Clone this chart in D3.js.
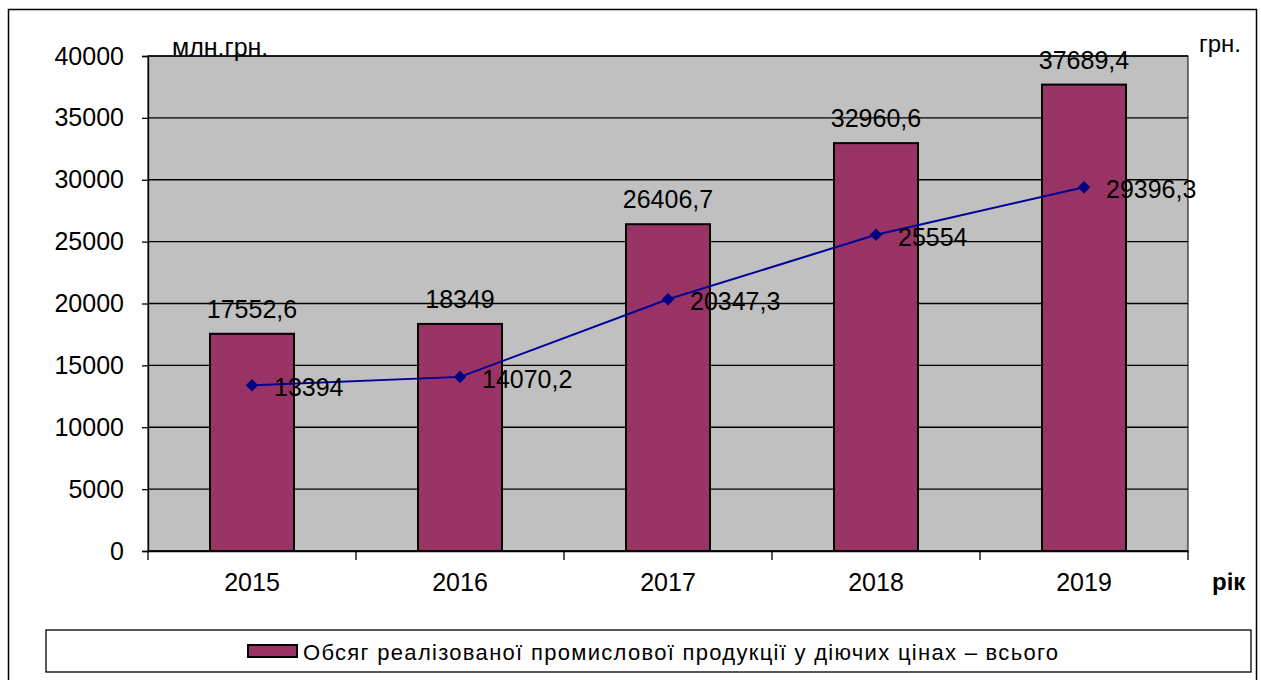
<!DOCTYPE html>
<html>
<head>
<meta charset="utf-8">
<script src="https://cdn.jsdelivr.net/npm/d3@7"></script>
<style>
  body { margin: 0; background: #fff; }
  text { font-family: "Liberation Sans", Arial, sans-serif; }
</style>
</head>
<body>
<svg id="chart" width="1261" height="680"></svg>
<script>
// data
var years = ["2015", "2016", "2017", "2018", "2019"]
var salesVolume = [17552.6, 18349, 26406.7, 32960.6, 37689.4]
var perCapita = [13394, 14070.2, 20347.3, 25554, 29396.3]
var yTicks = [0, 5000, 10000, 15000, 20000, 25000, 30000, 35000, 40000]
var legendLabel = "Обсяг реалізованої промислової продукції у діючих цінах – всього"

var fmt = function(v) { return String(v).replace(".", ","); }

var svg = d3.select("#chart")

// outer frame
svg.append("rect").attr("x", 8.5).attr("y", 9.5).attr("width", 1248).attr("height", 690)
  .attr("fill", "#fff").attr("stroke", "#000").attr("stroke-width", 1.5)

var plotL = 148, plotR = 1188, plotT = 56, plotB = 551
var fs = 25

var x = d3.scaleBand().domain(years).range([plotL, plotR]).paddingInner(0).paddingOuter(0)
var y = d3.scaleLinear().domain([0, 40000]).range([plotB, plotT])
var barW = 84

// plot area
svg.append("rect").attr("x", plotL).attr("y", plotT).attr("width", plotR - plotL).attr("height", plotB - plotT)
  .attr("fill", "#C0C0C0").attr("stroke", "#000").attr("stroke-width", 1)

// gridlines
svg.selectAll(".grid").data(yTicks).enter().append("line")
  .attr("x1", plotL).attr("x2", plotR)
  .attr("y1", function(d) { return y(d); }).attr("y2", function(d) { return y(d); })
  .attr("stroke", "#000").attr("stroke-width", 1.3)

// y axis
var yAxis = svg.append("g").attr("transform", "translate(" + plotL + ",0)")
  .call(d3.axisLeft(y).tickValues(yTicks).tickSize(6).tickPadding(18).tickFormat(d3.format("d")))
yAxis.select(".domain").attr("stroke", "#000").attr("stroke-width", 1.3)
yAxis.selectAll(".tick line").attr("stroke", "#000").attr("stroke-width", 1.3)
yAxis.selectAll(".tick text").attr("font-size", fs).attr("fill", "#000")
  .attr("font-family", "Liberation Sans, Arial, sans-serif")

// x axis
var xAxis = svg.append("g").attr("transform", "translate(0," + plotB + ")")
  .call(d3.axisBottom(x).tickSize(0).tickPadding(22))
xAxis.select(".domain").attr("stroke", "#000").attr("stroke-width", 1.3)
xAxis.selectAll(".tick text").attr("font-size", fs).attr("fill", "#000")
  .attr("font-family", "Liberation Sans, Arial, sans-serif")
// category separator ticks
var seps = years.map(function(d) { return x(d); }).concat([plotR])
svg.selectAll(".sep").data(seps).enter().append("line")
  .attr("x1", function(d) { return d; }).attr("x2", function(d) { return d; })
  .attr("y1", plotB).attr("y2", plotB + 9)
  .attr("stroke", "#000").attr("stroke-width", 1.3)

// bars
svg.selectAll(".bar").data(salesVolume).enter().append("rect")
  .attr("x", function(d, i) { return x(years[i]) + x.bandwidth() / 2 - barW / 2; })
  .attr("y", function(d) { return y(d); })
  .attr("width", barW)
  .attr("height", function(d) { return plotB - y(d); })
  .attr("fill", "#993366").attr("stroke", "#000").attr("stroke-width", 2)

// bar labels
svg.selectAll(".barlabel").data(salesVolume).enter().append("text")
  .attr("x", function(d, i) { return x(years[i]) + x.bandwidth() / 2; })
  .attr("y", function(d) { return y(d) - 16; })
  .attr("text-anchor", "middle").attr("font-size", fs).attr("fill", "#000")
  .text(fmt)

// line
var cx = function(d, i) { return x(years[i]) + x.bandwidth() / 2; }
var line = d3.line().x(cx).y(function(d) { return y(d); })
svg.append("path").datum(perCapita).attr("d", line)
  .attr("fill", "none").attr("stroke", "#000099").attr("stroke-width", 2)

svg.selectAll(".pt").data(perCapita).enter().append("path")
  .attr("d", d3.symbol().type(d3.symbolDiamond2).size(100))
  .attr("transform", function(d, i) { return "translate(" + cx(d, i) + "," + y(d) + ")"; })
  .attr("fill", "#000080")

svg.selectAll(".ptlabel").data(perCapita).enter().append("text")
  .attr("x", function(d, i) { return cx(d, i) + 22; })
  .attr("y", function(d) { return y(d) + 2; })
  .attr("dominant-baseline", "central")
  .attr("font-size", fs).attr("fill", "#000")
  .text(fmt)

// unit labels
svg.append("text").attr("x", 172).attr("y", 56).attr("font-size", 25).attr("fill", "#000").text("млн.грн.")
svg.append("text").attr("x", 1199).attr("y", 52).attr("font-size", 24).attr("fill", "#000").text("грн.")
svg.append("text").attr("x", 1212).attr("y", 590).attr("font-size", 24).attr("font-weight", "bold").attr("fill", "#000").text("рік")

// legend
svg.append("rect").attr("x", 46).attr("y", 630).attr("width", 1205).attr("height", 42)
  .attr("fill", "#fff").attr("stroke", "#000").attr("stroke-width", 1.3)
svg.append("rect").attr("x", 248).attr("y", 645).attr("width", 49).attr("height", 12)
  .attr("fill", "#993366").attr("stroke", "#000").attr("stroke-width", 2)
svg.append("text").attr("x", 303).attr("y", 660).attr("font-size", 22).attr("fill", "#000")
  .attr("textLength", 755).attr("lengthAdjust", "spacing")
  .text(legendLabel)
</script>
</body>
</html>
